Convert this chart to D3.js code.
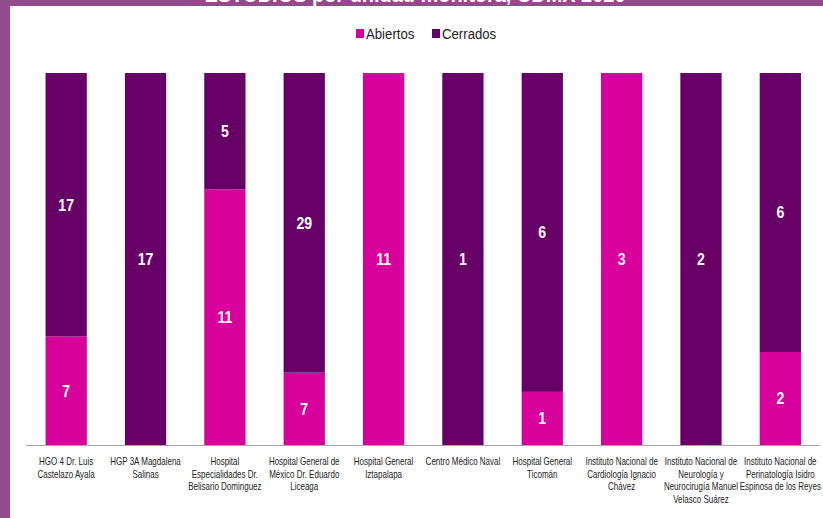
<!DOCTYPE html>
<html>
<head>
<meta charset="utf-8">
<script src="https://cdn.jsdelivr.net/npm/d3@7"></script>
<style>
  body { margin: 0; background: #fff; }
  svg { display: block; }
</style>
</head>
<body>
<div id="chart"></div>
<script>
// unidades monitoras (labels are wrapped by hand like the original)
const unidades = [
  ["HGO 4 Dr. Luis", "Castelazo Ayala"],
  ["HGP 3A Magdalena", "Salinas"],
  ["Hospital", "Especialidades Dr.", "Belisario Dominguez"],
  ["Hospital General de", "México Dr. Eduardo", "Liceaga"],
  ["Hospital General", "Iztapalapa"],
  ["Centro Médico Naval"],
  ["Hospital General", "Ticomán"],
  ["Instituto Nacional de", "Cardiología Ignacio", "Chávez"],
  ["Instituto Nacional de", "Neurología y", "Neurocirugía Manuel", "Velasco Suárez"],
  ["Instituto Nacional de", "Perinatología Isidro", "Espinosa de los Reyes"]
];
const abiertos = [7, 0, 11, 7, 11, 0, 1, 3, 0, 2];
const cerrados = [17, 17, 5, 29, 0, 1, 6, 0, 2, 6];

const series = ["Abiertos", "Cerrados"];
const colors = ["#d8009b", "#660066"];

const W = 823, H = 518;
const font = "'Liberation Sans', Arial, sans-serif";
const svg = d3.select("#chart").append("svg")
  .attr("width", W).attr("height", H);

// frame bits
svg.append("rect").attr("x", 0).attr("y", 0).attr("width", W).attr("height", 6).attr("fill", "#934a8b");
svg.append("rect").attr("x", 0).attr("y", 0).attr("width", 10).attr("height", H).attr("fill", "#934a8b");

// title, mostly cut off at the top
svg.append("text")
  .attr("transform", "translate(415,2) scale(0.95,1)")
  .attr("text-anchor", "middle")
  .attr("font-family", font)
  .attr("font-weight", "bold")
  .attr("font-size", 21)
  .attr("fill", "#fff")
  .text("ESTUDIOS por unidad monitora, CDMX 2020");

// 100% stacked
const rows = unidades.map((u, i) => {
  const tot = abiertos[i] + cerrados[i];
  return { i, Abiertos: abiertos[i] / tot, Cerrados: cerrados[i] / tot, raw: [abiertos[i], cerrados[i]] };
});
const stacked = d3.stack().keys(series)(rows);

const x = d3.scaleBand().domain(d3.range(unidades.length)).range([26.5, 820]).paddingInner(0.48).paddingOuter(0.24);
const y = d3.scaleLinear().domain([0, 1]).range([445, 73]);
const cx = i => x(i) + x.bandwidth() / 2;

const g = svg.append("g");
stacked.forEach((layer, k) => {
  g.append("g").selectAll("rect")
    .data(layer)
    .join("rect")
    .attr("x", d => x(d.data.i))
    .attr("y", d => y(d[1]))
    .attr("width", x.bandwidth())
    .attr("height", d => y(d[0]) - y(d[1]))
    .attr("fill", colors[k]);

  g.append("g").selectAll("text")
    .data(layer.filter(d => d.data.raw[k] > 0))
    .join("text")
    .attr("transform", d => `translate(${cx(d.data.i)},${(y(d[0]) + y(d[1])) / 2}) scale(0.88,1)`)
    .attr("dy", "0.36em")
    .attr("text-anchor", "middle")
    .attr("font-family", font)
    .attr("font-weight", "bold")
    .attr("font-size", 16)
    .attr("fill", "#fff")
    .text(d => d.data.raw[k]);
});

// axis
svg.append("line")
  .attr("x1", 26).attr("x2", 820)
  .attr("y1", 445.5).attr("y2", 445.5)
  .attr("stroke", "#a6a6a6").attr("stroke-width", 1);

// category labels, squeezed to mimic the narrow original font
const lbl = svg.append("g").selectAll("text")
  .data(unidades)
  .join("text")
  .attr("transform", (d, i) => `translate(${cx(i)},0) scale(0.8,1)`)
  .attr("text-anchor", "middle")
  .attr("font-family", font)
  .attr("font-size", 10)
  .attr("fill", "#222");
lbl.selectAll("tspan")
  .data(d => d)
  .join("tspan")
  .attr("x", 0)
  .attr("y", (d, j) => 465 + j * 12.6)
  .text(d => d);

// legend
const leg = svg.append("g").attr("font-family", font)
  .attr("font-size", 15).attr("fill", "#222");
const legX = [356, 432];
series.forEach((s, k) => {
  leg.append("rect").attr("x", legX[k]).attr("y", 29).attr("width", 8).attr("height", 9).attr("fill", colors[k]);
  leg.append("text").attr("transform", `translate(${legX[k] + 10},39) scale(0.88,1)`).text(s);
});
</script>
</body>
</html>
